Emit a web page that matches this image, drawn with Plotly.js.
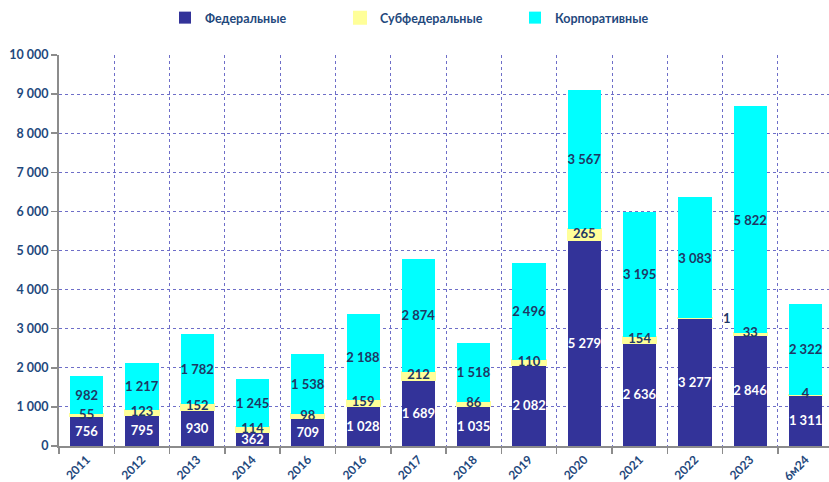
<!DOCTYPE html>
<html>
<head>
<meta charset="utf-8">
<script src="https://cdn.plot.ly/plotly-3.0.1.min.js"></script>
<style>html,body{margin:0;padding:0;background:#fff;}#chart{width:829px;height:482px;}</style>
</head>
<body>
<div id="chart"></div>
<script>
const categories = ["2011","2012","2013","2014","2016","2016","2017","2018","2019","2020","2021","2022","2023","6м24"];
const federal    = [756, 795, 930, 362, 709, 1028, 1689, 1035, 2082, 5279, 2636, 3277, 2846, 1311];
const subfederal = [55, 123, 152, 114, 98, 159, 212, 86, 110, 265, 154, 1, 33, 4];
const corporate  = [982, 1217, 1782, 1245, 1538, 2188, 2874, 1518, 2496, 3567, 3195, 3083, 5822, 2322];
const yTicks = [0,1000,2000,3000,4000,5000,6000,7000,8000,9000,10000];

const fmt = v => String(v).replace(/\B(?=(\d{3})+(?!\d))/g, " ");
const idx = categories.map((c,i)=>i);
const bounds = categories.map((c,i)=>i+0.5);
bounds.unshift(-0.5);

const FONT = "Lato, 'Open Sans', sans-serif";
const labelFont = {family:FONT, size:13, color:"#1F3864", weight:"bold"};
// the tiny 2022 subfederal label sits offset to the right in the original
const offsetIdx = subfederal.map((v,i)=>v<2 ? i : -1).filter(i=>i>=0);

const traces = [
  {type:"bar", name:"Федеральные", x:idx, y:federal, width:0.6,
   marker:{color:"#333399"}, text:federal.map(fmt), textposition:"inside",
   insidetextanchor:"middle", textangle:0,
   insidetextfont:Object.assign({}, labelFont, {color:"#ffffff"}), hoverinfo:"skip"},
  {type:"bar", name:"Субфедеральные", x:idx, y:subfederal, width:0.6,
   marker:{color:"#FFFF99", line:{color:"#FFFF99", width:2}},
   textposition:"none", hoverinfo:"skip"},
  {type:"bar", name:"Корпоративные", x:idx, y:corporate, width:0.6,
   marker:{color:"#00FFFF"}, text:corporate.map(fmt), textposition:"inside",
   insidetextanchor:"middle", textangle:0, insidetextfont:labelFont, hoverinfo:"skip"},
  {type:"scatter", mode:"text", x:idx, y:federal.map((f,i)=>f+subfederal[i]/2),
   text:subfederal.map((v,i)=>offsetIdx.includes(i)?"":fmt(v)), textposition:"middle center",
   textfont:labelFont, showlegend:false, hoverinfo:"skip", cliponaxis:false}
];

const annotations = offsetIdx.map(i=>({
  x:i, y:federal[i]+subfederal[i], xref:"x", yref:"y", text:fmt(subfederal[i]),
  showarrow:false, xshift:32, font:{family:FONT, size:13, color:"#1F3864", weight:"bold"}
}));

const axisFont = {family:FONT, size:12.5, color:"#1F497D", weight:"bold"};

const layout = {
  width:829, height:482,
  margin:{l:59, r:0, t:55, b:36, pad:0},
  barmode:"stack",
  paper_bgcolor:"#ffffff", plot_bgcolor:"#ffffff",
  separators:", ",
  uniformtext:{mode:"show", minsize:13},
  showlegend:true,
  legend:{orientation:"h", x:165/829, xref:"container", xanchor:"left", y:1-18/482, yref:"container", yanchor:"middle",
    font:{family:FONT, size:12.5, color:"#1F497D", weight:"bold"},
    traceorder:"normal", entrywidth:130, entrywidthmode:"pixels", itemwidth:30},
  xaxis:{range:[-0.5, -0.5 + 770/55.3], tickmode:"array", tickvals:idx, ticktext:categories,
    tickangle:-45, tickfont:{family:FONT, size:12, color:"#1F497D", weight:"bold"},
    showgrid:false, ticks:"", zeroline:false,
    showline:true, linecolor:"#8C8C8C", linewidth:2, fixedrange:true,
    minor:{tickmode:"array", tickvals:bounds, showgrid:true, gridcolor:"#6E6EC8", griddash:"dot", gridwidth:1,
           ticks:"outside", ticklen:6, tickcolor:"#8C8C8C", tickwidth:1.5}},
  yaxis:{range:[0,10000], tickmode:"array", tickvals:yTicks, tickformat:",d", tickfont:axisFont,
    showgrid:true, gridcolor:"#6E6EC8", griddash:"dot", gridwidth:1, zeroline:false,
    showline:true, linecolor:"#8C8C8C", linewidth:2, ticks:"outside", ticklen:6, tickcolor:"#8C8C8C",
    tickwidth:1.5, fixedrange:true},
  annotations:annotations
};

Plotly.newPlot("chart", traces, layout, {displayModeBar:false, staticPlot:true});
</script>
</body>
</html>
